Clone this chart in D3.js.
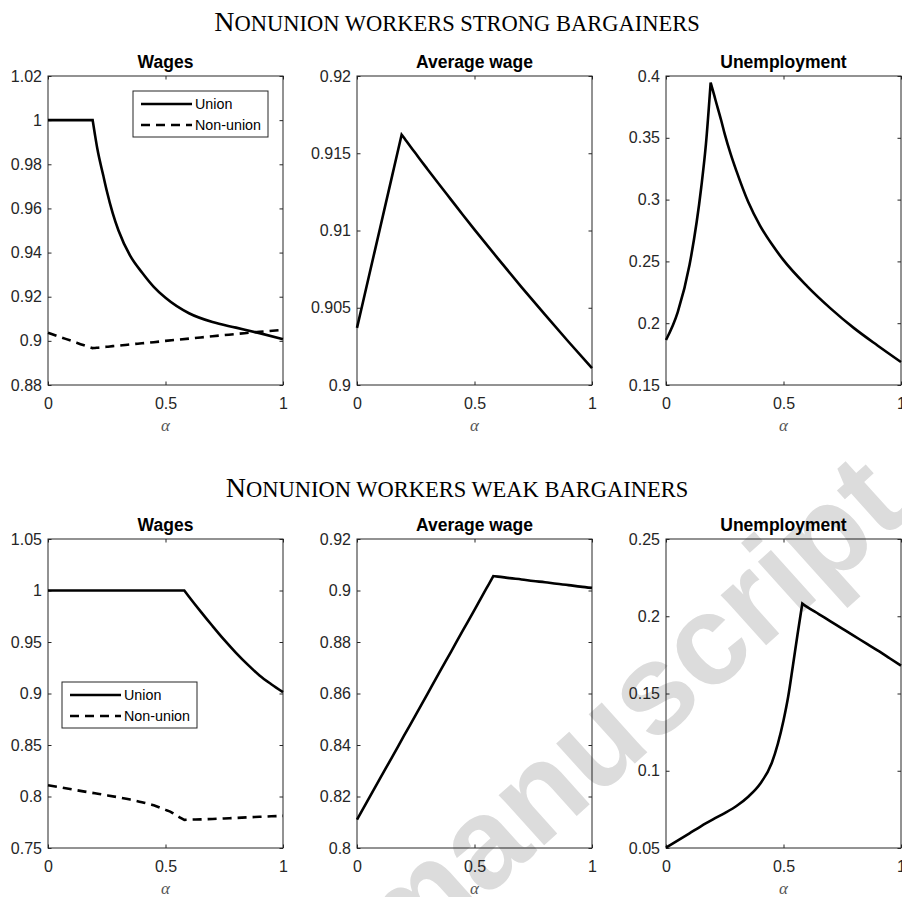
<!DOCTYPE html>
<html>
<head>
<meta charset="utf-8">
<script src="https://cdn.jsdelivr.net/npm/d3@7"></script>
<style>
  body { margin: 0; background: #fff; }
  svg { display: block; }
</style>
</head>
<body>
<svg id="chart" width="902" height="897"></svg>
<script>
// alpha grids (share of union workers), one per row
const alphaTop = [0, 0.05, 0.1, 0.15, 0.17, 0.19, 0.2, 0.21, 0.235, 0.25, 0.275, 0.3, 0.35, 0.4, 0.45, 0.5, 0.6, 0.7, 0.8, 0.9, 1];
const alphaBottom = [0, 0.1, 0.15, 0.2, 0.25, 0.3, 0.35, 0.4, 0.45, 0.5, 0.52, 0.54, 0.56, 0.58, 0.6, 0.65, 0.7, 0.75, 0.8, 0.85, 0.9, 0.95, 1];
// index of the kink in each grid (curves are smoothed on each side of it)
const kinkTop = 5;
const kinkBottom = 13;

// top row: nonunion workers strong bargainers
const unionWageTop = [1, 1, 1, 1, 1, 1, 0.9933, 0.987, 0.975, 0.968, 0.958, 0.950, 0.9385, 0.931, 0.9245, 0.9195, 0.9125, 0.9085, 0.906, 0.9035, 0.9008];
const nonunionWageTop = [0.9037, 0.9018, 0.9, 0.8981, 0.8974, 0.8967, 0.8968, 0.8969, 0.8972, 0.8973, 0.8976, 0.8978, 0.8984, 0.8989, 0.8994, 0.9, 0.901, 0.9021, 0.9031, 0.9041, 0.905];
const avgWageTop = [0.9037, 0.90699, 0.91028, 0.91357, 0.91489, 0.9162, 0.916, 0.91579, 0.91528, 0.91498, 0.91447, 0.91397, 0.91298, 0.912, 0.91102, 0.91006, 0.90818, 0.90634, 0.90455, 0.9028, 0.90109];
const unemploymentTop = [0.1864, 0.209, 0.247, 0.31, 0.345, 0.3946, 0.388, 0.381, 0.364, 0.353, 0.337, 0.323, 0.298, 0.279, 0.264, 0.251, 0.23, 0.212, 0.196, 0.182, 0.1686];

// bottom row: nonunion workers weak bargainers
const unionWageBottom = [1, 1, 1, 1, 1, 1, 1, 1, 1, 1, 1, 1, 1, 1, 0.994, 0.9795, 0.9655, 0.952, 0.9395, 0.928, 0.9175, 0.909, 0.9013];
const nonunionWageBottom = [0.811, 0.807, 0.805, 0.8031, 0.8012, 0.7992, 0.797, 0.7945, 0.7915, 0.787, 0.7853, 0.7825, 0.7798, 0.7773, 0.7775, 0.7778, 0.7782, 0.7787, 0.7792, 0.7798, 0.7803, 0.7808, 0.7812];
const avgWageBottom = [0.811, 0.8273, 0.8354, 0.8436, 0.8517, 0.8599, 0.8681, 0.8762, 0.8844, 0.8925, 0.8958, 0.8991, 0.9023, 0.9056, 0.9054, 0.9048, 0.9043, 0.9037, 0.9032, 0.9026, 0.9021, 0.9015, 0.901];
const unemploymentBottom = [0.0502, 0.0595, 0.0642, 0.0685, 0.0726, 0.0772, 0.0832, 0.0914, 0.105, 0.1325, 0.148, 0.168, 0.1885, 0.2082, 0.2061, 0.2014, 0.1967, 0.192, 0.1873, 0.1826, 0.1779, 0.173, 0.168];

// tick values
const xTicks = [0, 0.5, 1];
const wageTicksTop = [0.88, 0.9, 0.92, 0.94, 0.96, 0.98, 1, 1.02];
const avgTicksTop = [0.9, 0.905, 0.91, 0.915, 0.92];
const unempTicksTop = [0.15, 0.2, 0.25, 0.3, 0.35, 0.4];
const wageTicksBottom = [0.75, 0.8, 0.85, 0.9, 0.95, 1, 1.05];
const avgTicksBottom = [0.8, 0.82, 0.84, 0.86, 0.88, 0.9, 0.92];
const unempTicksBottom = [0.05, 0.1, 0.15, 0.2, 0.25];

const rowTitles = ['Nonunion workers strong bargainers', 'Nonunion workers weak bargainers'];
const panelTitles = ['Wages', 'Average wage', 'Unemployment'];
const legendLabels = ['Union', 'Non-union'];

const svg = d3.select('#chart');
const sans = '"Liberation Sans", Arial, Helvetica, sans-serif';
const serif = '"Liberation Serif", "Times New Roman", serif';
const axisColor = '#262626';

// watermark sits under everything
svg.append('text')
  .attr('transform', 'translate(400,975) rotate(-42)')
  .attr('font-family', sans)
  .attr('font-weight', 'bold')
  .attr('font-size', 128)
  .attr('fill', '#dcdcdc')
  .text('manuscript');

const colX = [48, 357, 666];
const rowY = [76, 539];
const panelW = 235;
const panelH = 309;

const rows = [
  {
    alpha: alphaTop,
    kink: kinkTop,
    panels: [
      { domain: [0.88, 1.02], ticks: wageTicksTop, series: [unionWageTop, nonunionWageTop], legend: { x: 85, y: 15 } },
      { domain: [0.9, 0.92], ticks: avgTicksTop, series: [avgWageTop] },
      { domain: [0.15, 0.4], ticks: unempTicksTop, series: [unemploymentTop] }
    ]
  },
  {
    alpha: alphaBottom,
    kink: kinkBottom,
    panels: [
      { domain: [0.75, 1.05], ticks: wageTicksBottom, series: [unionWageBottom, nonunionWageBottom], legend: { x: 14, y: 143 } },
      { domain: [0.8, 0.92], ticks: avgTicksBottom, series: [avgWageBottom] },
      { domain: [0.05, 0.25], ticks: unempTicksBottom, series: [unemploymentBottom] }
    ]
  }
];

const fmt = d => String(+d.toFixed(4));

rows.forEach((row, ri) => {
  const y0 = rowY[ri];

  // small-caps row heading
  const words = rowTitles[ri].toUpperCase();
  const head = svg.append('text')
    .attr('x', 457)
    .attr('y', ri === 0 ? 31 : 497)
    .attr('text-anchor', 'middle')
    .attr('font-family', serif)
    .attr('fill', '#000');
  head.append('tspan').attr('font-size', 28).text(words[0]);
  head.append('tspan').attr('font-size', 22.5).text(words.slice(1));

  row.panels.forEach((p, pi) => {
    const g = svg.append('g').attr('transform', `translate(${colX[pi]},${y0})`);
    const x = d3.scaleLinear().domain([0, 1]).range([0, panelW]);
    const y = d3.scaleLinear().domain(p.domain).range([panelH, 0]);

    // axes, ticks pointing in on all four sides
    const axes = [
      { gen: d3.axisBottom(x).tickValues(xTicks).tickFormat(fmt).tickPadding(13), t: `translate(0,${panelH})`, labels: true },
      { gen: d3.axisTop(x).tickValues(xTicks), t: 'translate(0,0)', labels: false },
      { gen: d3.axisLeft(y).tickValues(p.ticks).tickFormat(fmt).tickPadding(6), t: 'translate(0,0)', labels: true },
      { gen: d3.axisRight(y).tickValues(p.ticks), t: `translate(${panelW},0)`, labels: false }
    ];
    axes.forEach(a => {
      const ag = g.append('g')
        .attr('transform', a.t)
        .call(a.gen.tickSizeInner(-3.5).tickSizeOuter(0));
      ag.select('.domain').remove();
      ag.selectAll('line').attr('stroke', axisColor).attr('stroke-width', 1);
      if (a.labels) {
        ag.selectAll('text')
          .attr('font-family', sans)
          .attr('font-size', 16)
          .attr('fill', axisColor);
      } else {
        ag.selectAll('text').remove();
      }
    });

    g.append('rect')
      .attr('width', panelW)
      .attr('height', panelH)
      .attr('fill', 'none')
      .attr('stroke', axisColor)
      .attr('stroke-width', 1);

    const line = d3.line()
      .x(d => x(d[0]))
      .y(d => y(d[1]))
      .curve(d3.curveMonotoneX);

    p.series.forEach((s, si) => {
      const pts = s.map((v, i) => [row.alpha[i], v]);
      // smooth each side of the kink, keep the corner sharp:
      // the second piece starts where the first ends, so drop its moveTo
      const d = line(pts.slice(0, row.kink + 1)) + line(pts.slice(row.kink)).replace(/^M[^CL]*/, '');
      g.append('path')
        .attr('d', d)
        .attr('fill', 'none')
        .attr('stroke', '#000')
        .attr('stroke-width', 2.6)
        .attr('stroke-linejoin', 'miter')
        .attr('stroke-dasharray', si === 1 ? '9,6' : null);
    });

    // subplot title
    g.append('text')
      .attr('x', panelW / 2)
      .attr('y', -8)
      .attr('text-anchor', 'middle')
      .attr('font-family', sans)
      .attr('font-weight', 'bold')
      .attr('font-size', 17.5)
      .attr('fill', '#000')
      .text(panelTitles[pi]);

    // x label
    g.append('text')
      .attr('x', panelW / 2)
      .attr('y', panelH + 46)
      .attr('text-anchor', 'middle')
      .attr('font-family', serif)
      .attr('font-style', 'italic')
      .attr('font-size', 17)
      .attr('fill', '#555')
      .text('\u03b1');

    if (p.legend) {
      const lg = g.append('g').attr('transform', `translate(${p.legend.x},${p.legend.y})`);
      lg.append('rect')
        .attr('width', 135)
        .attr('height', 46)
        .attr('fill', '#fff')
        .attr('stroke', axisColor)
        .attr('stroke-width', 1);
      legendLabels.forEach((lab, li) => {
        const ly = 13 + li * 21;
        lg.append('line')
          .attr('x1', 8).attr('x2', 59)
          .attr('y1', ly).attr('y2', ly)
          .attr('stroke', '#000')
          .attr('stroke-width', 2.6)
          .attr('stroke-dasharray', li === 1 ? '9,6' : null);
        lg.append('text')
          .attr('x', 62)
          .attr('y', ly)
          .attr('dy', '0.35em')
          .attr('font-family', sans)
          .attr('font-size', 14.3)
          .attr('fill', '#000')
          .text(lab);
      });
    }
  });
});
</script>
</body>
</html>
